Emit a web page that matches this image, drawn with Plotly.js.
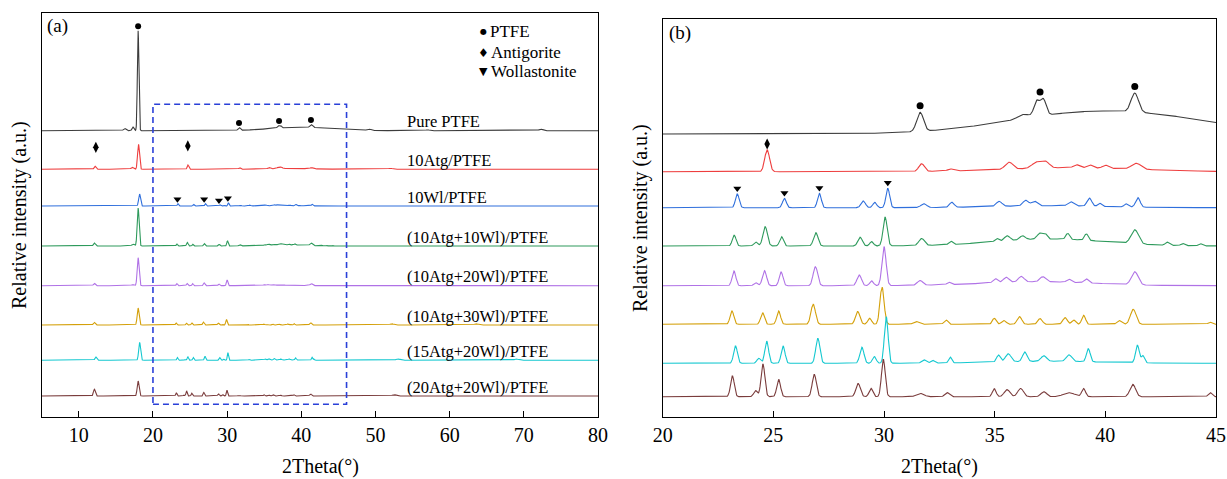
<!DOCTYPE html>
<html><head><meta charset="utf-8">
<script src="https://cdn.plot.ly/plotly-3.0.1.min.js"></script>
<style>html,body{margin:0;padding:0;background:#fff}</style>
</head><body><div id="chart" style="width:1227px;height:479px"></div>
<script>
// ---------- data ----------
const seriesNames = ['Pure PTFE','10Atg/PTFE','10Wl/PTFE','(10Atg+10Wl)/PTFE','(10Atg+20Wl)/PTFE','(10Atg+30Wl)/PTFE','(15Atg+20Wl)/PTFE','(20Atg+20Wl)/PTFE'];
const seriesColors = ['#3c3c3c','#ee3e3e','#2f6fdc','#2e9a5c','#b072e6','#d4a00a','#14c8d0','#7a3c3c'];
// vertical stacking offsets (panel a / panel b) and panel-a intensity gain
const offsetsA = [286.3,247.7,211,171,131.3,92,56.7,21];
const offsetsB = [283,245.3,209.3,171,131.3,92.7,53.7,20.3];
const gainA = [0.15,0.2,0.17,0.185,0.146,0.15,0.165,0.16];

// peaks: [2theta, intensity, half width]
const peaksPurePTFE = [[16.2,15,0.2],[17.3,25,0.15],[18.0,667,0.12],[31.63,19,0.18],[36.3,4,0.3],[36.9,15,0.15],[37.2,16,0.15],[41.33,19,0.2],[39.5,22,4.5],[44,4,3],[49.1,10,0.3],[57,6,0.3],[72.3,10,0.3]];
const peaks10Atg = [[12.2,15,0.15],[17.2,10,0.2],[18.05,125,0.15],[24.72,21.7,0.13],[31.7,7.7,0.15],[33.0,2,0.15],[35.65,7,0.2],[36.9,6,0.25],[37.3,6,0.2],[38.7,3,0.15],[39.3,3,0.15],[40.0,3,0.15],[41.4,6,0.25],[38.5,4,3.5],[52,5,0.3]];
const peaks10Wl = [[18.2,70,0.15],[23.37,13.7,0.1],[25.5,9.3,0.1],[27.08,14.3,0.1],[29.06,6.7,0.12],[29.58,5.3,0.1],[30.17,19.3,0.1],[31.8,3.7,0.15],[33.06,5,0.12],[35.2,5,0.15],[36.4,5.5,0.15],[36.8,4.5,0.15],[38.44,4,0.15],[39.28,8,0.12],[39.75,3,0.1],[40.94,3,0.1],[41.47,9.5,0.12],[37.5,2,3]];
const peaks10Atg10Wl = [[12.1,16,0.15],[17.3,10,0.2],[18.0,205,0.15],[23.23,10.7,0.1],[24.2,4,0.1],[24.63,19.3,0.12],[25.37,9.3,0.1],[26.92,13.3,0.12],[28.92,8.7,0.12],[29.44,4.3,0.1],[30.05,28.7,0.11],[31.7,7,0.15],[33.02,3.3,0.1],[37.5,7,3],[35.1,3,0.1],[35.56,5,0.15],[36.26,4,0.15],[37.05,6,0.15],[37.3,4.5,0.1],[38.3,6,0.1],[39.14,6.5,0.1],[41.33,14,0.2],[42.8,3,0.1],[43.5,2,0.1],[44.3,2,0.1]];
const peaks10Atg20Wl = [[12.1,16,0.15],[17.3,8,0.2],[18.0,192,0.15],[23.22,14.7,0.1],[24.2,3,0.1],[24.6,15,0.11],[25.35,13.7,0.1],[26.9,19,0.12],[28.88,10.7,0.12],[29.44,4.7,0.1],[30.0,39,0.11],[31.63,4.7,0.15],[32.94,2.3,0.1],[37,4,3],[35.03,4,0.12],[35.52,5,0.15],[36.2,5.5,0.15],[37.17,5,0.15],[38.36,3,0.12],[39.14,4,0.12],[41.33,13,0.18]];
const peaks10Atg30Wl = [[12.1,18,0.15],[18.0,113,0.15],[23.13,13.3,0.1],[24.51,11.7,0.1],[25.24,13.3,0.1],[26.8,20,0.12],[28.81,12.7,0.12],[29.35,6,0.1],[29.91,37.3,0.11],[31.45,2.7,0.15],[32.8,4.3,0.1],[34.98,6,0.1],[35.42,3.7,0.12],[36.12,7.7,0.12],[37.05,5.7,0.12],[38.18,6.7,0.12],[38.57,4.3,0.1],[39.02,9,0.1],[40.63,3.7,0.12],[41.26,15,0.15],[44.74,2,0.1],[52.2,8,0.3],[63.6,8,0.3]];
const peaks15Atg20Wl = [[12.3,20,0.15],[18.2,109,0.15],[23.29,17.3,0.1],[24.34,5,0.1],[24.7,22.3,0.1],[25.44,17.3,0.1],[27.01,25,0.11],[29.0,16,0.11],[29.56,6.7,0.1],[30.1,46.7,0.1],[31.8,3.3,0.12],[32.2,2.7,0.1],[32.99,5.7,0.08],[35.17,7,0.1],[35.61,8,0.15],[36.36,9.5,0.12],[37.22,5.5,0.15],[38.36,6.5,0.15],[39.23,13,0.1],[41.45,17.5,0.1],[41.7,7,0.08],[37.5,2,3],[53,8,0.3],[69,8,0.3]];
const peaks20Atg20Wl = [[12.1,42,0.15],[18.0,94,0.15],[23.15,20.7,0.1],[24.2,6,0.1],[24.53,32.7,0.1],[25.24,17.3,0.1],[26.85,22.3,0.11],[28.83,13.3,0.12],[29.41,8.3,0.1],[29.97,37.3,0.1],[31.63,3.3,0.2],[32.85,4,0.12],[34.98,8,0.1],[35.56,7,0.15],[36.17,8.3,0.15],[37.22,5,0.15],[38.36,4,0.3],[39.02,8,0.1],[41.24,12.3,0.15],[44.74,4,0.1],[52.5,8,0.3]];
const seriesPeaks = [peaksPurePTFE,peaks10Atg,peaks10Wl,peaks10Atg10Wl,peaks10Atg20Wl,peaks10Atg30Wl,peaks15Atg20Wl,peaks20Atg20Wl];

// phase markers (2theta)
const ptfeMarksA = [18.0,31.6,37.0,41.3];
const atgMarksA = [12.3,24.7];
const wolMarksA = [23.3,26.9,28.9,30.1];
const ptfeMarksB = [31.63,37.05,41.33];
const atgMarksB = [24.72];
const wolMarksB = [23.37,25.5,27.08,30.17];

const ticksA = [10,20,30,40,50,60,70,80];
const ticksB = [20,25,30,35,40,45];

// ---------- build ----------
const LN2 = Math.log(2);
function profile(peaks, x){let s=0;for(const [p,h,w] of peaks){const d=(x-p)/w;s+=h*Math.exp(-LN2*d*d);}return s;}
function grid(a,b,st){const g=[];for(let v=a;v<=b+1e-9;v+=st)g.push(+v.toFixed(3));return g;}
const xA = grid(5,80,0.02), xB = grid(20,45,0.02);
function yA(i,x){return offsetsA[i]+gainA[i]*profile(seriesPeaks[i],x);}
function yB(i,x){return offsetsB[i]+profile(seriesPeaks[i],x);}
function topNear(f,i,x){let m=-1e9;for(let v=x-0.15;v<=x+0.15;v+=0.01)m=Math.max(m,f(i,v));return m;}

const traces=[];
seriesNames.forEach((n,i)=>{
  traces.push({x:xA,y:xA.map(x=>yA(i,x)),xaxis:'x',yaxis:'y',mode:'lines',line:{color:seriesColors[i],width:1.1},showlegend:false,hoverinfo:'skip'});
  traces.push({x:xB,y:xB.map(x=>yB(i,x)),xaxis:'x2',yaxis:'y2',mode:'lines',line:{color:seriesColors[i],width:1.1},showlegend:false,hoverinfo:'skip'});
});
function marks(xs,f,i,lift,sym,size,ax,ay){
  traces.push({x:xs,y:xs.map(x=>topNear(f,i,x)+lift),xaxis:ax,yaxis:ay,mode:'markers',marker:{symbol:sym,size:size,color:'#000'},showlegend:false,hoverinfo:'skip'});
}
marks(ptfeMarksA,yA,0,4.5,'circle',6,'x','y');
marks(atgMarksA,yA,1,19,'diamond-tall',8,'x','y');
marks(wolMarksA,yA,2,4.5,'triangle-down',7,'x','y');
marks(ptfeMarksB,yB,0,6.5,'circle',7,'x2','y2');
marks(atgMarksB,yB,1,6,'diamond-tall',8,'x2','y2');
marks(wolMarksB,yB,2,5.5,'triangle-down',7,'x2','y2');

const W=1227,H=479;
const FONT="'Liberation Serif','Times New Roman',serif";
const ann=[];
function A(o){return Object.assign({showarrow:false,xanchor:'center',yanchor:'middle'},o);}
seriesNames.forEach((n,i)=>ann.push(A({x:54,y:offsetsA[i]+9,xref:'x',yref:'y',text:n,xanchor:'left',font:{family:FONT,size:16.5,color:'#000'}})));
function px(x){return x/W;} function py(y){return 1-y/H;}
ann.push(A({x:px(320),y:py(466),xref:'paper',yref:'paper',text:'2Theta(°)',font:{family:FONT,size:20,color:'#000'}}));
ann.push(A({x:px(939),y:py(466),xref:'paper',yref:'paper',text:'2Theta(°)',font:{family:FONT,size:20,color:'#000'}}));
ann.push(A({x:px(20),y:py(215),xref:'paper',yref:'paper',text:'Relative intensity (a.u.)',textangle:-90,font:{family:FONT,size:20,color:'#000'}}));
ann.push(A({x:px(640),y:py(218),xref:'paper',yref:'paper',text:'Relative intensity (a.u.)',textangle:-90,font:{family:FONT,size:20,color:'#000'}}));
ann.push(A({x:px(57),y:py(26),xref:'paper',yref:'paper',text:'(a)',font:{family:FONT,size:19,color:'#000'}}));
ann.push(A({x:px(680),y:py(33),xref:'paper',yref:'paper',text:'(b)',font:{family:FONT,size:19,color:'#000'}}));
const legendItems=[['●','PTFE',31.7,8],['♦','Antigorite',52.7,12],['▼','Wollastonite',71.7,11]];
legendItems.forEach(([s,t,y,fs])=>{
  ann.push(A({x:px(483),y:py(y),xref:'paper',yref:'paper',text:s,font:{family:'DejaVu Sans',size:fs,color:'#000'}}));
  ann.push(A({x:px(488.5),y:py(y),xref:'paper',yref:'paper',text:t,xanchor:'left',font:{family:FONT,size:17,color:'#000'}}));
});

const zoomBox = {x0:20,x1:46.1,y0:12.7,y1:312.7};
const axBase = {showgrid:false,zeroline:false,showline:true,mirror:true,linecolor:'#000',linewidth:1};
const layout = {
  width:W,height:H,margin:{l:0,r:0,t:0,b:0},paper_bgcolor:'#fff',plot_bgcolor:'#fff',showlegend:false,
  xaxis:Object.assign({},axBase,{domain:[px(41.7),px(598)],range:[5,80],tickvals:ticksA,ticktext:ticksA.map(String),ticks:'inside',ticklen:6,tickcolor:'#000',tickfont:{family:FONT,size:20,color:'#000'}}),
  yaxis:Object.assign({},axBase,{domain:[py(417),py(12.5)],range:[0,404.5],showticklabels:false,ticks:''}),
  xaxis2:Object.assign({},axBase,{domain:[px(662.7),px(1216)],range:[20,45],tickvals:ticksB,ticktext:ticksB.map(String),ticks:'inside',ticklen:6,tickcolor:'#000',tickfont:{family:FONT,size:20,color:'#000'},anchor:'y2'}),
  yaxis2:Object.assign({},axBase,{domain:[py(417),py(19)],range:[0,398],showticklabels:false,ticks:'',anchor:'x2'}),
  annotations:ann,
  shapes:[{type:'rect',xref:'x',yref:'y',x0:zoomBox.x0,x1:zoomBox.x1,y0:zoomBox.y0,y1:zoomBox.y1,line:{color:'#2a40d8',width:1.6,dash:'6px,4px'}}]
};
Plotly.newPlot('chart',traces,layout,{staticPlot:true,displayModeBar:false});
</script></body></html>
